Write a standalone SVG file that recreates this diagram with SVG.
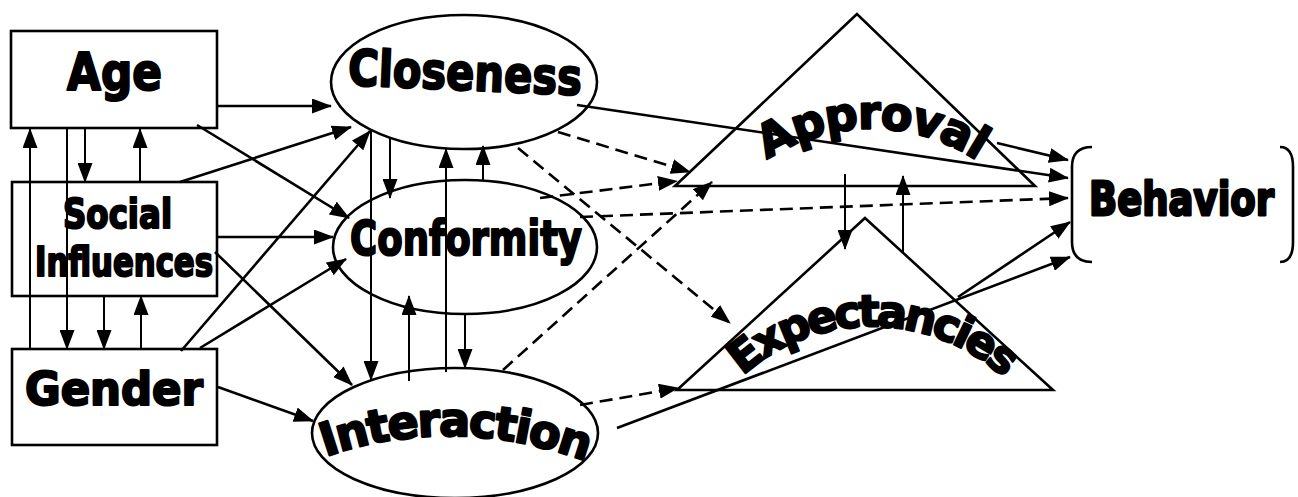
<svg xmlns="http://www.w3.org/2000/svg" width="1298" height="497" viewBox="0 0 1298 497">
<style>
.shape{fill:none;stroke:#000;stroke-width:2.6}
.lbl{font-family:"DejaVu Sans",Verdana,sans-serif;font-weight:bold;fill:#000;stroke:#000;stroke-width:2.2;stroke-linejoin:round}
.c{fill:none;stroke:#000;stroke-width:2.6;marker-end:url(#ah)}
.t{fill:none;stroke:#000;stroke-width:2;marker-end:url(#ah)}
.d{fill:none;stroke:#000;stroke-width:2.6;stroke-dasharray:13 7;marker-end:url(#ah)}
.p{fill:none;stroke:#000;stroke-width:2.6}
</style>
<defs>
<marker id="ah" markerUnits="userSpaceOnUse" markerWidth="20" markerHeight="15" refX="19" refY="7.5" orient="auto" viewBox="0 0 20 15"><path d="M0,0 L20,7.5 L0,15 z" fill="#000"/></marker>
<path id="arcInteraction" d="M 322 458 Q 452 412 588 462"/>
<path id="arcApproval" d="M 764 162 A 190 190 0 0 1 979 162"/>
<path id="arcExpect" d="M 740 378 A 195 195 0 0 1 1004 378"/>
</defs>
<rect width="1298" height="497" fill="#fff"/>
<g id="connectors">
<line class="c" x1="217" y1="106" x2="331" y2="106"/>
<line class="c" x1="197" y1="125" x2="349" y2="218"/>
<line class="c" x1="180" y1="182" x2="351" y2="127"/>
<line class="c" x1="217" y1="237" x2="333" y2="237"/>
<line class="c" x1="215" y1="252" x2="352" y2="385"/>
<line class="c" x1="181" y1="351" x2="370" y2="131"/>
<line class="c" x1="200" y1="348" x2="346" y2="259"/>
<line class="c" x1="218" y1="387" x2="313" y2="421"/>
<line class="t" x1="30" y1="349" x2="30" y2="129"/>
<line class="t" x1="67" y1="128" x2="67" y2="349"/>
<line class="t" x1="85" y1="128" x2="85" y2="182"/>
<line class="t" x1="140" y1="182" x2="140" y2="129"/>
<line class="t" x1="104" y1="296" x2="104" y2="349"/>
<line class="t" x1="141" y1="349" x2="141" y2="296"/>
<line class="t" x1="371" y1="131" x2="371" y2="380"/>
<line class="t" x1="390" y1="138" x2="390" y2="198"/>
<line class="t" x1="446" y1="372" x2="446" y2="149"/>
<line class="t" x1="483" y1="181" x2="483" y2="146"/>
<line class="t" x1="409" y1="381" x2="409" y2="296"/>
<line class="t" x1="465" y1="314" x2="465" y2="368"/>
<line class="d" x1="558" y1="132" x2="690" y2="172"/>
<line class="d" x1="540" y1="198" x2="677" y2="181"/>
<line class="d" x1="580" y1="217" x2="1068" y2="198"/>
<line class="d" x1="518" y1="148" x2="730" y2="323"/>
<line class="d" x1="503" y1="370" x2="712" y2="182"/>
<line class="d" x1="580" y1="405" x2="678" y2="388"/>
<line class="c" x1="577" y1="105" x2="1068" y2="178"/>
<line class="c" x1="997" y1="143" x2="1068" y2="160"/>
<line class="c" x1="958" y1="297" x2="1070" y2="222"/>
<line class="c" x1="617" y1="428" x2="1070" y2="257"/>
<line class="t" x1="845" y1="174" x2="845" y2="249"/>
<line class="t" x1="903" y1="253" x2="903" y2="176"/>
</g>
<g id="age">
<rect class="shape" x="11" y="31" width="206" height="97"/>
<text class="lbl" x="67" y="90" font-size="52" textLength="95" lengthAdjust="spacingAndGlyphs">Age</text>
</g>
<g id="social">
<rect class="shape" x="12" y="182" width="205" height="114"/>
<text class="lbl" x="63" y="228" font-size="40" textLength="109" lengthAdjust="spacingAndGlyphs">Social</text>
<text class="lbl" x="35" y="276" font-size="40" textLength="178" lengthAdjust="spacingAndGlyphs">Influences</text>
</g>
<g id="gender">
<rect class="shape" x="12" y="349" width="205" height="96"/>
<text class="lbl" x="25" y="405" font-size="46" textLength="178" lengthAdjust="spacingAndGlyphs">Gender</text>
</g>
<g id="closeness">
<ellipse class="shape" cx="464" cy="82" rx="133" ry="67"/>
<text class="lbl" x="348" y="90" font-size="50" textLength="234" lengthAdjust="spacingAndGlyphs" transform="rotate(2.5 465 75)">Closeness</text>
</g>
<g id="conformity">
<ellipse class="shape" cx="465" cy="247" rx="132" ry="67"/>
<text class="lbl" x="350" y="255" font-size="48" textLength="232" lengthAdjust="spacingAndGlyphs">Conformity</text>
</g>
<g id="interaction">
<ellipse class="shape" cx="455" cy="433" rx="143" ry="65"/>
<text class="lbl" font-size="46" letter-spacing="-2" text-anchor="middle"><textPath href="#arcInteraction" startOffset="50%">Interaction</textPath></text>
</g>
<g id="approval">
<polygon class="shape" points="857,14 675,186 1035,186"/>
<text class="lbl" font-size="46" letter-spacing="-1.5" text-anchor="middle"><textPath href="#arcApproval" startOffset="50%">Approval</textPath></text>
</g>
<g id="expectancies">
<polygon class="shape" points="865,218 677,390 1053,390"/>
<text class="lbl" font-size="44" letter-spacing="-3.5" text-anchor="middle"><textPath href="#arcExpect" startOffset="50%">Expectancies</textPath></text>
</g>
<g id="behavior">
<path class="p" d="M1092,147 Q1072,147 1072,167 L1072,242 Q1072,262 1092,262"/>
<path class="p" d="M1280,147 Q1293,147 1293,167 L1293,242 Q1293,262 1280,262"/>
<text class="lbl" x="0" y="0" font-size="37" transform="translate(1089,215) scale(1,1.27)">Behavior</text>
</g>
</svg>
